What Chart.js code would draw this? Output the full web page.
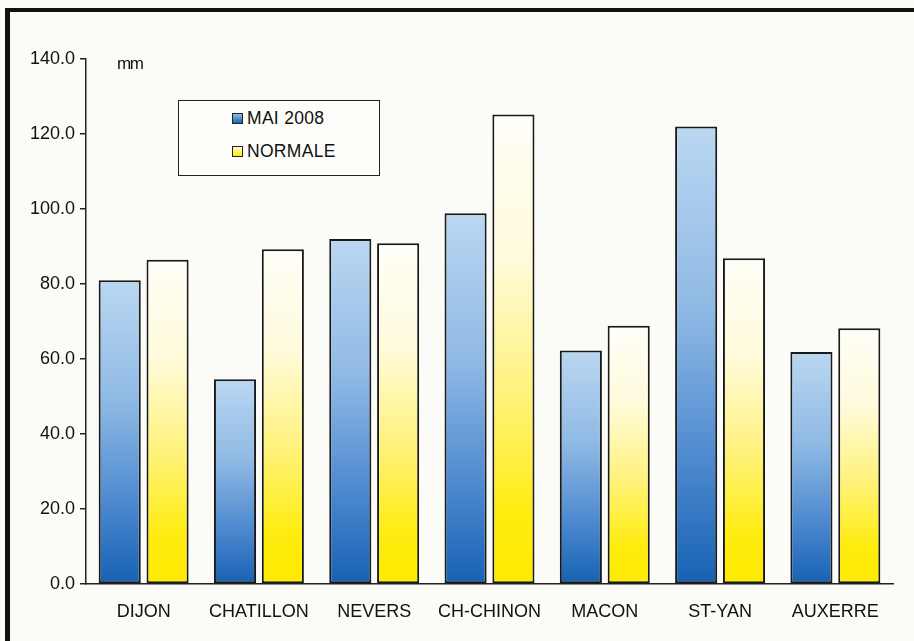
<!DOCTYPE html>
<html>
<head>
<meta charset="utf-8">
<script src="https://cdn.jsdelivr.net/npm/chart.js@4.4.0/dist/chart.umd.min.js"></script>
<style>
  html, body { margin: 0; padding: 0; background: #fbfbf7; }
  #wrap { position: relative; width: 914px; height: 641px; overflow: hidden; font-family: "Liberation Sans", Arial, sans-serif; }
  #frameLeft { position: absolute; left: 5px; top: 8px; width: 5px; height: 633px; background: #111; }
  #frameTop { position: absolute; left: 5px; top: 8px; width: 909px; height: 4px; background: #111; }
  #unit { position: absolute; left: 117px; top: 54px; font-size: 17px; color: #111; letter-spacing: -1.5px; }
  #legend { position: absolute; left: 178px; top: 100px; width: 202px; height: 76px; border: 1px solid #222; background: #fdfdfa; box-sizing: border-box; }
  .item { position: absolute; left: 53px; font-size: 17.5px; color: #111; display: flex; align-items: center; letter-spacing: 0.3px; }
  .swatch { width: 9px; height: 9px; border: 1px solid #222; margin-right: 4px; }
  canvas { position: absolute; left: 0; top: 0; }
</style>
</head>
<body>
<div id="wrap">
  <canvas id="chart" width="914" height="641"></canvas>
  <div id="frameLeft"></div>
  <div id="frameTop"></div>
  <div id="unit">mm</div>
  <div id="legend"></div>
</div>
<script>
const stations = ["DIJON", "CHATILLON", "NEVERS", "CH-CHINON", "MACON", "ST-YAN", "AUXERRE"];
const mai2008 = [81.0, 54.6, 92.0, 98.9, 62.3, 122.0, 61.9];
const normale = [86.5, 89.3, 90.9, 125.2, 68.9, 86.9, 68.2];
const yTicks = [0, 20, 40, 60, 80, 100, 120, 140];

const blueStops = [[0, "#bad7f1"], [0.4, "#8fb9e4"], [0.72, "#4f8bd0"], [1, "#1761b3"]];
const yellowStops = [[0, "#fffef8"], [0.3, "#fffbdc"], [0.6, "#fff27a"], [0.85, "#ffec10"], [1, "#ffea00"]];

function barGradient(stops) {
    return function (c) {
        const chart = c.chart;
        const y = chart.scales.y;
        if (!y || c.raw == null || y.bottom === undefined) return stops[stops.length - 1][1];
        const top = y.getPixelForValue(c.raw);
        const base = y.getPixelForValue(0);
        const g = chart.ctx.createLinearGradient(0, top, 0, base);
        stops.forEach(s => g.addColorStop(s[0], s[1]));
        return g;
    };
}

const chart = new Chart(document.getElementById("chart").getContext("2d"), {
    type: "bar",
    data: {
        labels: stations,
        datasets: [
            {
                label: "MAI 2008",
                data: mai2008,
                backgroundColor: barGradient(blueStops),
                borderColor: "#1a1a1a",
                borderWidth: 2,
                borderSkipped: false
            },
            {
                label: "NORMALE",
                data: normale,
                backgroundColor: barGradient(yellowStops),
                borderColor: "#1a1a1a",
                borderWidth: 2,
                borderSkipped: false
            }
        ]
    },
    options: {
        responsive: false,
        animation: false,
        events: [],
        layout: { padding: { top: 59, right: 21, bottom: 0, left: 0 } },
        datasets: { bar: { categoryPercentage: 0.83, barPercentage: 0.88 } },
        plugins: {
            legend: { display: false },
            tooltip: { enabled: false }
        },
        scales: {
            x: {
                grid: { display: true, drawOnChartArea: false, drawTicks: false },
                border: { display: true, color: "#222", width: 1.5 },
                ticks: { color: "#111", padding: 17, font: { family: "Liberation Sans", size: 18 } },
                afterFit: s => { s.height = 57; }
            },
            y: {
                min: 0,
                max: 140,
                afterBuildTicks: s => { s.ticks = yTicks.map(v => ({ value: v })); },
                grid: { display: true, drawOnChartArea: false, drawTicks: true, tickLength: 6, color: "#222", lineWidth: 1.5 },
                border: { display: true, color: "#222", width: 1.5 },
                ticks: {
                    color: "#111",
                    padding: 5,
                    font: { family: "Liberation Sans", size: 18 },
                    callback: v => Number(v).toFixed(1)
                },
                afterFit: s => { s.width = 86; }
            }
        }
    }
});

// html legend from the datasets
const legend = document.getElementById("legend");
const swatchCss = [
    "linear-gradient(#8fbbe6, #1a62b2)",
    "linear-gradient(#fffbe0, #ffec00)"
];
chart.data.datasets.forEach((ds, i) => {
    const item = document.createElement("div");
    item.className = "item";
    item.style.top = (i === 0 ? 7 : 40) + "px";
    const sw = document.createElement("span");
    sw.className = "swatch";
    sw.style.background = swatchCss[i];
    const txt = document.createElement("span");
    txt.textContent = ds.label;
    item.appendChild(sw);
    item.appendChild(txt);
    legend.appendChild(item);
});
</script>
</body>
</html>
